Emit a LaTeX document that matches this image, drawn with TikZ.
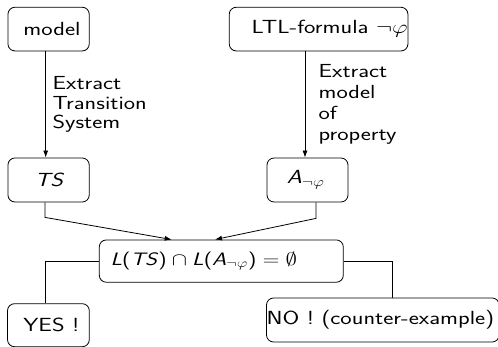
\documentclass[tikz,border=0pt]{standalone}
\usepackage{fix-cm}
\usetikzlibrary{arrows.meta}
% horizontally widened text, as in the slide this chart comes from
\newcommand\wide[1]{\scalebox{1.27}[1]{#1}}
\tikzset{
  every node/.style={font=\sffamily\fontsize{19}{21}\selectfont},
  box/.style={draw, rounded corners=7pt, inner sep=0pt, line width=0.8pt},
  link/.style={line width=0.8pt},
  arr/.style={link, -{Latex[length=7pt,width=5pt]}},
  lbl/.style={inner sep=0pt, align=left, anchor=west},
}
\begin{document}
\begin{tikzpicture}[x=1pt, y=-1pt]
  \useasboundingbox (0,0) rectangle (498,347);

  % sources
  \node[box, minimum width=81.3pt, minimum height=43.7pt] (model) at (48.6,29.1)
    {\hspace*{6.8pt}\wide{model}};
  \node[box, minimum width=178.7pt, minimum height=43.7pt] (ltl) at (318.6,29.1)
    {\hspace*{22pt}\wide{LTL-formula $\neg\varphi$}};

  % automata
  \node[box, minimum width=81.3pt, minimum height=44pt] (ts) at (48.6,180)
    {\hspace*{2pt}\wide{\textit{TS}}};
  \node[box, minimum width=81pt, minimum height=44pt] (aut) at (307.5,180)
    {\wide{\textit{A}$_{\neg\varphi}$}\hspace*{3.4pt}};

  % emptiness check
  \node[box, minimum width=244pt, minimum height=42.3pt, font=\sffamily\fontsize{18}{20}\selectfont] (check) at (221.3,261.1)
    {\wide{\textit{L}(\textit{TS})${}\cap{}$\textit{L}(\textit{A}$_{\neg\varphi}$)${}={}$$\emptyset$}\hspace*{35pt}};

  % verdicts
  \node[box, minimum width=81.8pt, minimum height=43pt] (yes) at (48.4,325.2)
    {\hspace*{6pt}\wide{YES !}};
  \node[box, minimum width=229.6pt, minimum height=44pt] (no) at (382.8,320)
    {\wide{NO ! (counter-example)}\hspace*{5pt}};

  % extraction steps
  \draw[arr] ([xshift=-2.9pt]model.south) -- ([xshift=-2.9pt]ts.north)
    node[lbl, midway, xshift=6.6pt, font=\sffamily\fontsize{18.9}{19.5}\selectfont]
    {\wide{Extract}\\\wide{Transition}\\\wide{System}};
  \draw[arr] ([xshift=-13.6pt]ltl.south) -- ([xshift=-2.5pt]aut.north)
    node[lbl, midway, xshift=13.3pt, font=\sffamily\fontsize{18.9}{21}\selectfont]
    {\wide{Extract}\\\wide{model}\\\wide{of}\\\wide{property}};

  % product
  \draw[arr] ([xshift=-3.6pt]ts.south) -- ++(0,15) -- ([xshift=-49.6pt]check.north);
  \draw[arr] ([xshift=8.5pt]aut.south) -- ++(0,16) -- ([xshift=-6.3pt]check.north);

  % outcomes
  \draw[link] (check.west) -| ([xshift=-3.4pt]yes.north);
  \draw[link] (check.east) -| ([xshift=9.2pt]no.north);
\end{tikzpicture}
\end{document}
